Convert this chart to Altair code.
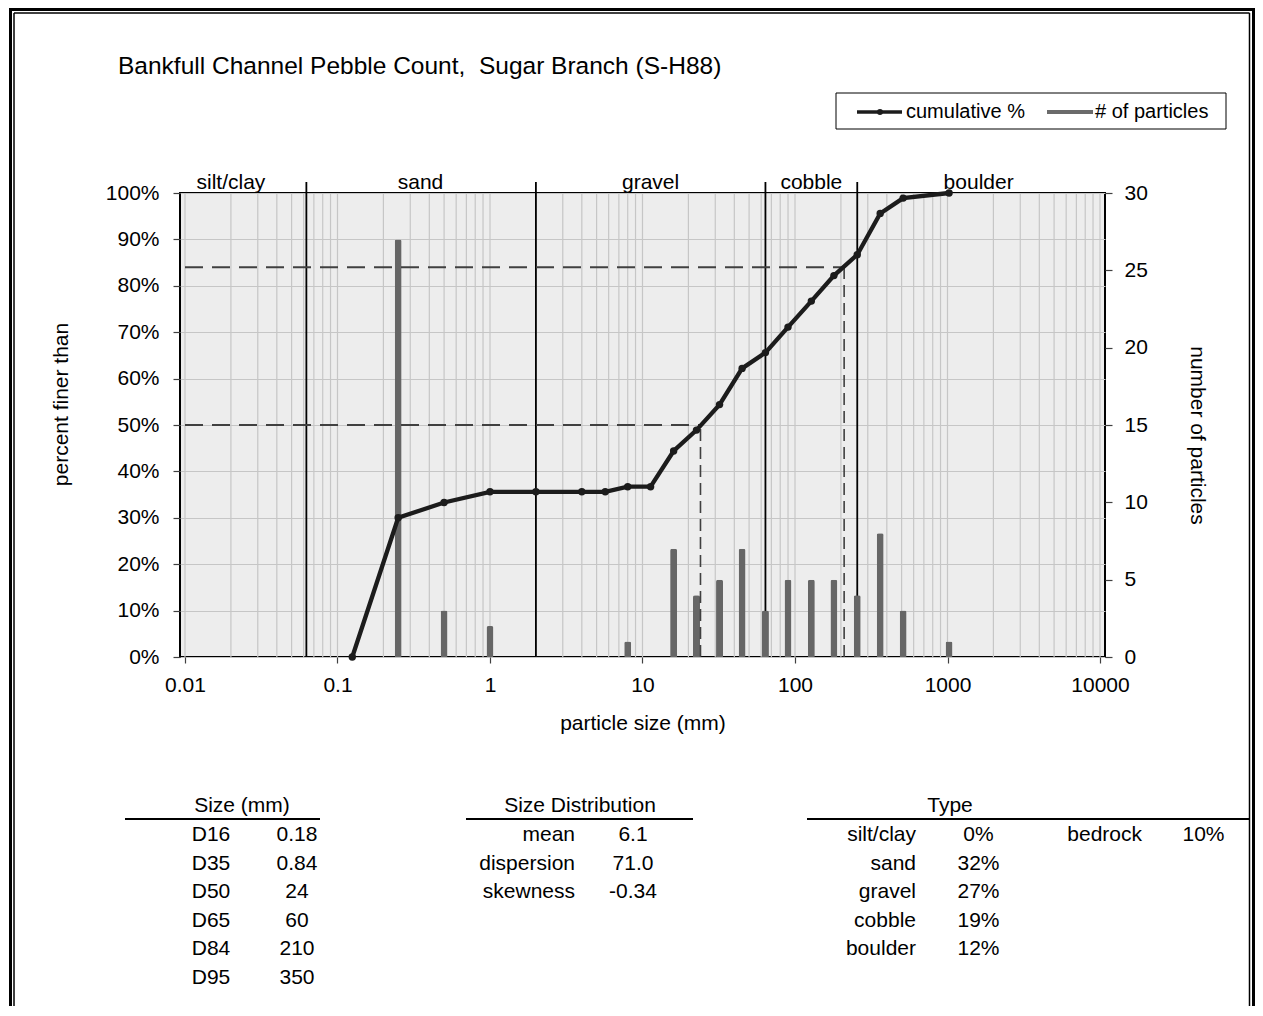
import altair as alt
import pandas as pd

FONT = "Liberation Sans, Arial, sans-serif"
TITLE = "Bankfull Channel Pebble Count,\u00a0 Sugar Branch (S-H88)"

# cumulative % finer curve
cum_size = [0.125, 0.25, 0.5, 1, 2, 4, 5.7, 8, 11.3, 16, 22.6, 32, 45, 64, 90, 128, 180, 256, 362, 512, 1024]
cum_pct = [0, 30.0, 33.3, 35.6, 35.6, 35.6, 35.6, 36.7, 36.7, 44.4, 48.9, 54.4, 62.2, 65.6, 71.1, 76.7, 82.2, 86.7, 95.6, 98.9, 100]

# number of particles per size class
bar_size = [0.25, 0.5, 1, 8, 16, 22.6, 32, 45, 64, 90, 128, 180, 256, 362, 512, 1024]
bar_count = [27, 3, 2, 1, 7, 4, 5, 7, 3, 5, 5, 5, 4, 8, 3, 1]

# size classes
class_names = ["silt/clay", "sand", "gravel", "cobble", "boulder"]
class_label_at = [0.02, 0.35, 11.3, 128, 1600]
class_bounds = [0.0625, 2, 64, 256]

# summary tables
d_labels = ["D16", "D35", "D50", "D65", "D84", "D95"]
d_values = ["0.18", "0.84", "24", "60", "210", "350"]
dist_labels = ["mean", "dispersion", "skewness"]
dist_values = ["6.1", "71.0", "-0.34"]
type_labels = ["silt/clay", "sand", "gravel", "cobble", "boulder"]
type_values = ["0%", "32%", "27%", "19%", "12%"]
bedrock_label = "bedrock"
bedrock_value = "10%"

x_ticks = [0.01, 0.1, 1, 10, 100, 1000, 10000]
pct_ticks = [0, 10, 20, 30, 40, 50, 60, 70, 80, 90, 100]
count_ticks = [0, 5, 10, 15, 20, 25, 30]

D50 = float(d_values[d_labels.index("D50")])
D84 = float(d_values[d_labels.index("D84")])

# ---------------------------------------------------------------
W, H = 925, 464
GRID = "#c6c6c6"
TICK = "#404040"
FS = 21

minor_grid = [k * 10.0 ** d for d in range(-2, 4) for k in range(1, 10)] + [10000.0]

XS = alt.Scale(type="log", domain=[0.01, 10000], nice=False)
YP = alt.Scale(domain=[0, 100], nice=False)
YC = alt.Scale(domain=[0, 30], nice=False)

x_axis = alt.Axis(
    orient="bottom", values=x_ticks, grid=False, domain=False,
    tickSize=6, tickColor=TICK, tickWidth=1.2,
    labelExpr="'' + datum.value",
    labelFontSize=FS, labelColor="black", labelPadding=11, labelFont=FONT,
    title="particle size (mm)", titleFontSize=FS, titleFontWeight="normal", titleColor="black",
    titleFont=FONT, titleX=W / 2, titleY=76, titleBaseline="bottom", titleAlign="center",
)
y_left = alt.Axis(
    orient="left", values=pct_ticks, labelExpr="datum.value + '%'",
    grid=True, gridColor=GRID, gridWidth=1.2, domain=False,
    tickSize=7, tickColor=TICK, tickWidth=1.2,
    labelFontSize=FS, labelColor="black", labelPadding=14, labelFont=FONT,
    title="percent finer than", titleFontSize=FS, titleFontWeight="normal", titleColor="black",
    titleFont=FONT, titleAngle=270, titleX=-119, titleY=211, titleBaseline="middle", titleAlign="center",
)
y_right = alt.Axis(
    orient="right", values=count_ticks, grid=False, domain=False,
    tickSize=7, tickColor=TICK, tickWidth=1.2,
    labelFontSize=FS, labelColor="black", labelPadding=12, labelFont=FONT,
    title="number of particles", titleFontSize=FS, titleFontWeight="normal", titleColor="black",
    titleFont=FONT, titleAngle=90, titleX=91, titleY=242, titleBaseline="middle", titleAlign="center",
)


def X(field):
    return alt.X(field, scale=XS, axis=x_axis)


one = pd.DataFrame({"a": [0]})
grid_df = pd.DataFrame({"g": minor_grid})
cum_df = pd.DataFrame({"size": cum_size, "pct": cum_pct})
bar_df = pd.DataFrame({"size": bar_size, "count": bar_count})
bounds_df = pd.DataFrame({"x": class_bounds})
cls_df = pd.DataFrame({"name": class_names, "x": class_label_at})
hdash_df = pd.DataFrame({"x": [0.01, 0.01], "x2": [D50, D84], "y": [50, 84]})
vdash_df = pd.DataFrame({"x": [D50, D84], "y": [0, 0], "y2": [50, 84]})

layers = []

# log minor grid (vertical)
layers.append(alt.Chart(grid_df).mark_rule(color=GRID, strokeWidth=1.2).encode(
    x=X("g:Q"), y=alt.value(H), y2=alt.value(0)))
# class boundary lines
layers.append(alt.Chart(bounds_df).mark_rule(color="black", strokeWidth=1.8).encode(
    x=X("x:Q"), y=alt.value(H), y2=alt.value(-11)))
# class labels
layers.append(alt.Chart(cls_df).mark_text(fontSize=FS, font=FONT, color="black", align="center",
                                          baseline="alphabetic").encode(
    x=X("x:Q"), y=alt.value(-4.5), text="name:N"))
# bars
layers.append(alt.Chart(bar_df).mark_bar(size=7, color="#666666", cornerRadiusTopLeft=2,
                                         cornerRadiusTopRight=2).encode(
    x=X("size:Q"), y=alt.Y("count:Q", scale=YC, axis=y_right)))
# dashed guides
layers.append(alt.Chart(hdash_df).mark_rule(color="#404040", strokeWidth=2, strokeDash=[18, 9]).encode(
    x=X("x:Q"), x2="x2:Q", y=alt.Y("y:Q", scale=YP, axis=None)))
layers.append(alt.Chart(vdash_df).mark_rule(color="#404040", strokeWidth=1.6, strokeDash=[12, 6]).encode(
    x=X("x:Q"), y=alt.Y("y:Q", scale=YP, axis=None), y2="y2:Q"))
# cumulative curve
layers.append(alt.Chart(cum_df).mark_line(color="#1c1c1c", strokeWidth=4.3).encode(
    x=X("size:Q"), y=alt.Y("pct:Q", scale=YP, axis=y_left)))
layers.append(alt.Chart(cum_df).mark_point(filled=True, size=55, color="#1c1c1c", opacity=1).encode(
    x=X("size:Q"), y=alt.Y("pct:Q", scale=YP, axis=None)))

# legend
layers.append(alt.Chart(one).mark_rect(fill="white", stroke="black", strokeWidth=1).encode(
    x=alt.value(656), x2=alt.value(1046), y=alt.value(-100), y2=alt.value(-64)))
layers.append(alt.Chart(one).mark_rule(color="#1c1c1c", strokeWidth=3.5).encode(
    x=alt.value(677), x2=alt.value(722), y=alt.value(-81)))
layers.append(alt.Chart(one).mark_point(filled=True, size=35, color="#1c1c1c", opacity=1).encode(
    x=alt.value(700), y=alt.value(-81)))
layers.append(alt.Chart(one).mark_text(fontSize=20, font=FONT, color="black", align="left",
                                       baseline="alphabetic").encode(
    x=alt.value(726), y=alt.value(-75), text=alt.value("cumulative %")))
layers.append(alt.Chart(one).mark_rule(color="#6b6b6b", strokeWidth=4).encode(
    x=alt.value(867), x2=alt.value(913), y=alt.value(-81)))
layers.append(alt.Chart(one).mark_text(fontSize=20, font=FONT, color="black", align="left",
                                       baseline="alphabetic").encode(
    x=alt.value(915), y=alt.value(-75), text=alt.value("# of particles")))

# title
layers.append(alt.Chart(one).mark_text(fontSize=24.5, font=FONT, color="black", align="left",
                                       baseline="alphabetic").encode(
    x=alt.value(-62), y=alt.value(-119.5), text=alt.value(TITLE)))


def txt(x, y, s, align="center"):
    return alt.Chart(one).mark_text(fontSize=FS, font=FONT, color="black", align=align,
                                    baseline="alphabetic", lineBreak="\n", lineHeight=28.6).encode(
        x=alt.value(x), y=alt.value(y), text=alt.value(s))


def hline(x1, x2, y, w=2):
    return alt.Chart(one).mark_rule(color="black", strokeWidth=w).encode(
        x=alt.value(x1), x2=alt.value(x2), y=alt.value(y))


def vline(x, y1, y2, w):
    return alt.Chart(one).mark_rule(color="black", strokeWidth=w).encode(
        x=alt.value(x), y=alt.value(y1), y2=alt.value(y2))


RIGHT_IN = 1069.5
RIGHT_OUT = 1073.5
ROW0 = 648
# size table
layers.append(txt(62, 619, "Size (mm)"))
layers.append(hline(-55, 140, 626))
layers.append(txt(31, ROW0, "\n".join(d_labels)))
layers.append(txt(117, ROW0, "\n".join(d_values)))
# size distribution table
layers.append(txt(400, 619, "Size Distribution"))
layers.append(hline(286, 513, 626))
layers.append(txt(395, ROW0, "\n".join(dist_labels), align="right"))
layers.append(txt(453, ROW0, "\n".join(dist_values)))
# type table
layers.append(txt(770, 619, "Type"))
layers.append(hline(627, RIGHT_IN, 626))
layers.append(txt(736, ROW0, "\n".join(type_labels), align="right"))
layers.append(txt(798.5, ROW0, "\n".join(type_values)))
layers.append(txt(962, ROW0, bedrock_label, align="right"))
layers.append(txt(1023.5, ROW0, bedrock_value))

# outer double border
layers.append(vline(-169.5, -185, 820, 3))
layers.append(vline(-166, -180, 820, 1.5))
layers.append(vline(RIGHT_IN, -180, 820, 1.5))
layers.append(vline(RIGHT_OUT, -185, 820, 3))
layers.append(hline(-171, RIGHT_OUT + 1.5, -183.5, 3))
layers.append(hline(-166, RIGHT_IN, -180, 1.5))

chart = alt.layer(*layers).resolve_scale(y="independent").properties(
    width=W, height=H,
    autosize=alt.AutoSizeParams(type="none"),
    padding={"left": 172, "top": 185, "right": 150, "bottom": 349},
    background="white",
).configure(
    font=FONT,
    view=alt.ViewConfig(fill="#ededed", stroke="black", strokeWidth=2),
)

chart.save("out.html", embed_options={"renderer": "svg", "actions": False})
